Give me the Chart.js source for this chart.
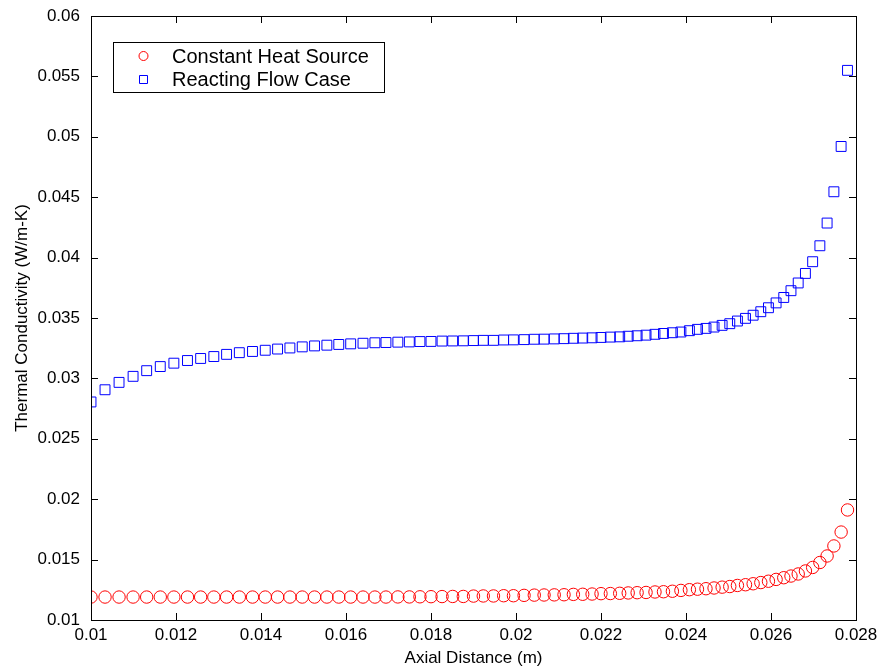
<!DOCTYPE html>
<html>
<head>
<meta charset="utf-8">
<title>Thermal Conductivity</title>
<script src="https://cdn.jsdelivr.net/npm/chart.js@4.4.1/dist/chart.umd.min.js"></script>
<style>
  html, body { margin: 0; padding: 0; background: #fff; }
  #grafico { display: block; }
</style>
</head>
<body>
<canvas id="grafico" width="881" height="669"></canvas>
<script>
// axial positions (m), grid gets finer towards the outlet
const distancia = [
    0.01000, 0.01033, 0.01066, 0.01099, 0.01131, 0.01163, 0.01195, 0.01227, 0.01258, 0.01289,
    0.01319, 0.01349, 0.01380, 0.01410, 0.01439, 0.01468, 0.01497, 0.01526, 0.01555, 0.01583,
    0.01611, 0.01640, 0.01668, 0.01694, 0.01722, 0.01749, 0.01774, 0.01800, 0.01826, 0.01851,
    0.01876, 0.01900, 0.01923, 0.01947, 0.01971, 0.01994, 0.02019, 0.02043, 0.02066, 0.02090,
    0.02113, 0.02135, 0.02157, 0.02179, 0.02200, 0.02222, 0.02244, 0.02264, 0.02285, 0.02306,
    0.02327, 0.02347, 0.02368, 0.02388, 0.02408, 0.02427, 0.02447, 0.02466, 0.02485, 0.02503,
    0.02521, 0.02540, 0.02558, 0.02576, 0.02594, 0.02612, 0.02630, 0.02647, 0.02664, 0.02681,
    0.02698, 0.02715, 0.02732, 0.02748, 0.02765, 0.02780
];

// Constant Heat Source (W/m-K)
const kCalorConstante = [
    0.01190, 0.01190, 0.01190, 0.01190, 0.01190, 0.01190, 0.01190, 0.01190, 0.01190, 0.01190,
    0.01190, 0.01190, 0.01190, 0.01190, 0.01190, 0.01190, 0.01190, 0.01190, 0.01190, 0.01190,
    0.01190, 0.01190, 0.01190, 0.01190, 0.01191, 0.01191, 0.01192, 0.01193, 0.01194, 0.01195,
    0.01195, 0.01198, 0.01199, 0.01199, 0.01201, 0.01201, 0.01204, 0.01206, 0.01207, 0.01208,
    0.01209, 0.01212, 0.01213, 0.01215, 0.01218, 0.01219, 0.01221, 0.01224, 0.01226, 0.01228,
    0.01232, 0.01234, 0.01238, 0.01245, 0.01251, 0.01255, 0.01259, 0.01265, 0.01272, 0.01277,
    0.01286, 0.01292, 0.01300, 0.01310, 0.01321, 0.01336, 0.01350, 0.01364, 0.01381, 0.01406,
    0.01435, 0.01476, 0.01530, 0.01613, 0.01728, 0.01911
];

// Reacting Flow Case (W/m-K)
const kFlujoReactivo = [
    0.02805, 0.02906, 0.02967, 0.03017, 0.03064, 0.03098, 0.03126, 0.03148, 0.03165, 0.03181,
    0.03199, 0.03213, 0.03223, 0.03233, 0.03243, 0.03252, 0.03261, 0.03269, 0.03275, 0.03281,
    0.03286, 0.03291, 0.03295, 0.03297, 0.03300, 0.03302, 0.03305, 0.03306, 0.03309, 0.03310,
    0.03311, 0.03313, 0.03315, 0.03315, 0.03318, 0.03319, 0.03321, 0.03324, 0.03325, 0.03327,
    0.03329, 0.03332, 0.03334, 0.03336, 0.03339, 0.03342, 0.03344, 0.03349, 0.03353, 0.03358,
    0.03365, 0.03372, 0.03378, 0.03384, 0.03395, 0.03406, 0.03414, 0.03425, 0.03439, 0.03453,
    0.03475, 0.03497, 0.03523, 0.03552, 0.03585, 0.03625, 0.03670, 0.03726, 0.03790, 0.03869,
    0.03966, 0.04098, 0.04286, 0.04545, 0.04920, 0.05550
];

const ejeX = { min: 0.01, max: 0.028, paso: 0.002 };
const ejeY = { min: 0.01, max: 0.06, paso: 0.005 };

const ROJO = "#ff0000";
const AZUL = "#0000ff";
const FUENTE = "'Liberation Sans', Arial, Helvetica, sans-serif";

function formatoTick(v) {
    return String(Number(v.toFixed(4)));
}

function puntos(xs, ys) {
    return xs.map((x, i) => ({ x: x, y: ys[i] }));
}

// MATLAB style box: frame, inward ticks on all sides, legend inside
const marcoMatlab = {
    id: "marcoMatlab",
    afterDraw(chart) {
        const { ctx, chartArea: a, scales } = chart;
        const largo = 7;
        ctx.save();
        ctx.strokeStyle = "#000";
        ctx.lineWidth = 1;

        scales.x.ticks.forEach(t => {
            const px = Math.round(scales.x.getPixelForValue(t.value)) + 0.5;
            ctx.beginPath();
            ctx.moveTo(px, a.bottom);
            ctx.lineTo(px, a.bottom - largo);
            ctx.moveTo(px, a.top);
            ctx.lineTo(px, a.top + largo);
            ctx.stroke();
        });

        scales.y.ticks.forEach(t => {
            const py = Math.round(scales.y.getPixelForValue(t.value)) + 0.5;
            ctx.beginPath();
            ctx.moveTo(a.left, py);
            ctx.lineTo(a.left + largo, py);
            ctx.moveTo(a.right, py);
            ctx.lineTo(a.right - largo, py);
            ctx.stroke();
        });

        ctx.strokeRect(Math.round(a.left) + 0.5, Math.round(a.top) + 0.5,
            Math.round(a.right - a.left), Math.round(a.bottom - a.top));

        // legend
        const caja = { x: 113.5, y: 42.5, w: 271, h: 50 };
        ctx.fillStyle = "#fff";
        ctx.fillRect(caja.x, caja.y, caja.w, caja.h);
        ctx.strokeStyle = "#000";
        ctx.strokeRect(caja.x, caja.y, caja.w, caja.h);

        ctx.font = "20px " + FUENTE;
        ctx.textBaseline = "middle";
        ctx.textAlign = "left";

        // circle entry
        ctx.strokeStyle = ROJO;
        ctx.beginPath();
        ctx.arc(143.5, 56, 4.5, 0, Math.PI * 2);
        ctx.stroke();
        ctx.fillStyle = "#000";
        ctx.fillText(chart.data.datasets[0].label, 172, 57);

        // square entry
        ctx.strokeStyle = AZUL;
        ctx.beginPath();
        ctx.rect(139.5, 75.5, 8, 8);
        ctx.stroke();
        ctx.fillStyle = "#000";
        ctx.fillText(chart.data.datasets[1].label, 172, 80);

        ctx.restore();
    }
};

new Chart(document.getElementById("grafico"), {
    type: "scatter",
    data: {
        datasets: [
            {
                label: "Constant Heat Source",
                data: puntos(distancia, kCalorConstante),
                pointStyle: "circle",
                pointRadius: 6.2,
                borderColor: ROJO,
                backgroundColor: "rgba(0,0,0,0)",
                borderWidth: 1
            },
            {
                label: "Reacting Flow Case",
                data: puntos(distancia, kFlujoReactivo),
                pointStyle: "rect",
                pointRadius: 7,
                borderColor: AZUL,
                backgroundColor: "rgba(0,0,0,0)",
                borderWidth: 1
            }
        ]
    },
    options: {
        responsive: false,
        animation: false,
        layout: { padding: { top: 16, right: 25, left: 0, bottom: 0 } },
        plugins: {
            legend: { display: false },
            tooltip: { enabled: false }
        },
        scales: {
            x: {
                type: "linear",
                min: ejeX.min,
                max: ejeX.max,
                afterFit: s => { s.height = 49; s.paddingLeft = 0; s.paddingRight = 0; },
                grid: { display: false, drawTicks: false },
                border: { display: false },
                ticks: {
                    stepSize: ejeX.paso,
                    padding: 5,
                    color: "#000",
                    font: { family: FUENTE, size: 17 },
                    maxRotation: 0,
                    callback: formatoTick
                },
                title: {
                    display: true,
                    text: "Axial Distance (m)",
                    color: "#000",
                    font: { family: FUENTE, size: 17 },
                    padding: { top: 0, bottom: 0 }
                }
            },
            y: {
                type: "linear",
                min: ejeY.min,
                max: ejeY.max,
                afterFit: s => { s.width = 91; s.paddingTop = 0; s.paddingBottom = 0; },
                grid: { display: false, drawTicks: false },
                border: { display: false },
                ticks: {
                    stepSize: ejeY.paso,
                    padding: 11,
                    color: "#000",
                    font: { family: FUENTE, size: 17 },
                    callback: formatoTick
                },
                title: {
                    display: true,
                    text: "Thermal Conductivity (W/m-K)",
                    color: "#000",
                    font: { family: FUENTE, size: 17 },
                    padding: { top: 12, bottom: 0 }
                }
            }
        }
    },
    plugins: [marcoMatlab]
});
</script>
</body>
</html>
